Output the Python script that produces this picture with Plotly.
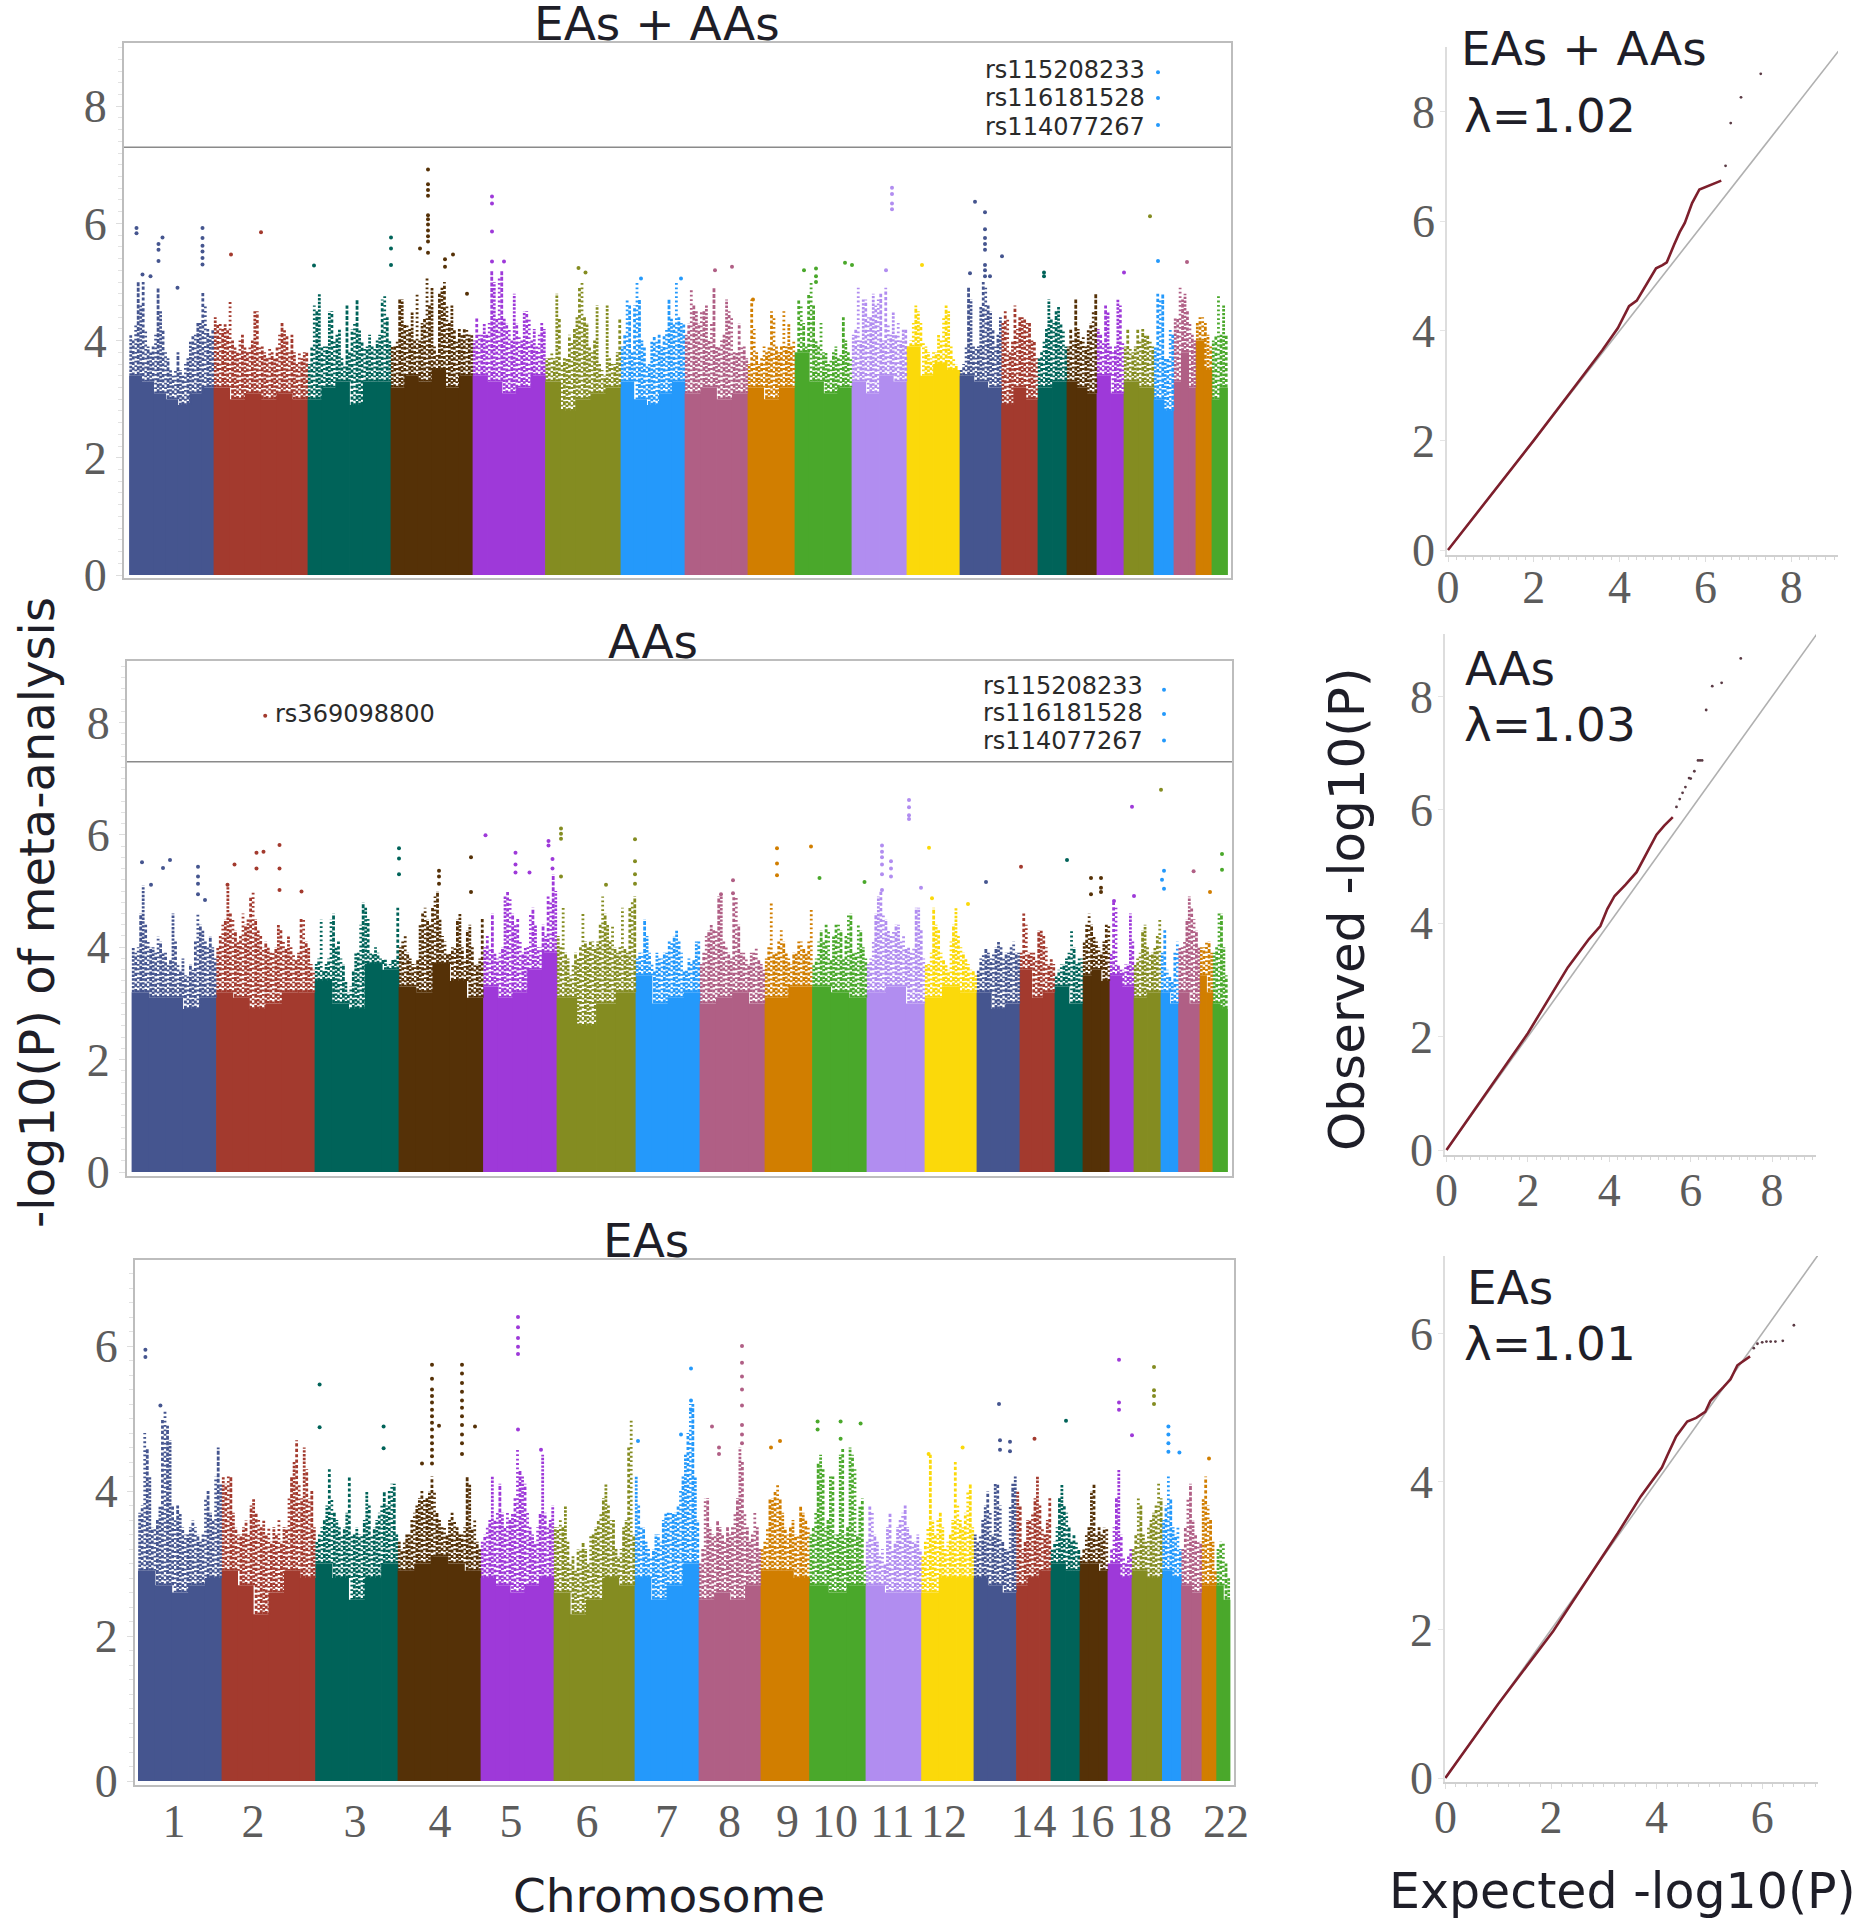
import plotly.graph_objects as go

COLORS = ["#45558f", "#a33a2e", "#006359", "#553107", "#9e39d9", "#848c21", "#2499fb", "#b05f85",
          "#d17e00", "#4aa82b", "#b18df0", "#fbd90a"]
CHROM_TICK_TEXT = ["1", "2", "3", "4", "5", "6", "7", "8", "9", "10", "11", "12", "14", "16", "18", "22"]
CHROM_TICK_POS = [35.6, 114.6, 216.6, 301.6, 372.6, 448.6, 528, 591, 649, 696.6, 754, 805.6, 895, 953, 1010.6, 1087.6]

# ---------- EAs + AAs Manhattan ----------
P1_WIDTHS = [84.5, 94, 83, 82, 72.5, 75.5, 64, 63, 47, 57, 55, 53, 41.6, 36.4, 29, 30, 27, 30, 20, 22, 16, 15.5]
P1_SOLID = [
    [3.4, 3.3, 3.1, 3.0, 2.9, 3.1, 3.2], [3.2, 3.0, 3.1, 3.0, 3.1, 3.0], [3.0, 3.2, 3.3, 2.9, 3.3, 3.3],
    [3.2, 3.4, 3.3, 3.5, 3.2, 3.4], [3.4, 3.3, 3.1, 3.2, 3.4], [3.3, 2.8, 3.0, 3.1, 3.2], [3.3, 3.0, 2.9, 3.1, 3.3],
    [3.1, 3.2, 3.0, 3.1], [3.2, 3.0, 3.2], [3.8, 3.3, 3.1, 3.2], [3.3, 3.1, 3.4, 3.3], [3.9, 3.4, 3.6, 3.5],
    [3.4, 3.3, 3.2], [2.9, 3.2, 3.0], [3.2, 3.3], [3.3, 3.2, 3.1], [3.4, 3.1], [3.3, 3.2], [3.0, 2.8], [3.3, 3.8, 3.2], [4.0, 3.5], [3.0, 3.2]]
P1_TOPS = [
    [4.1, 4.0, 4.3, 5.0, 4.6, 5.0, 4.2, 3.9, 3.8, 3.9, 4.1, 4.9, 4.5, 4.2, 3.8, 3.7, 3.5, 3.4, 3.5, 3.8, 3.5, 3.4, 3.6, 3.7, 4.0, 4.1, 4.1, 4.3, 4.3, 4.85, 4.6, 4.2, 4.1, 4.2],
    [4.4, 4.3, 4.3, 4.2, 4.3, 4.2, 4.7, 4.0, 3.9, 3.8, 4.0, 4.1, 3.9, 3.8, 3.9, 4.0, 4.5, 4.5, 3.9, 3.9, 3.8, 3.7, 3.9, 3.8, 3.7, 3.9, 4.1, 4.3, 4.2, 4.1, 3.8, 4.1, 3.8, 3.6, 3.8, 3.7, 3.8, 3.8],
    [3.6, 3.9, 4.6, 4.5, 4.8, 3.9, 3.9, 3.9, 4.5, 4.5, 4.0, 4.1, 4.2, 3.7, 3.6, 4.6, 3.8, 4.2, 4.3, 4.7, 4.2, 4.0, 3.9, 3.9, 4.1, 3.9, 3.9, 4.0, 4.1, 4.7, 4.8, 4.4, 4.0],
    [3.9, 3.9, 4.0, 4.7, 4.7, 4.3, 4.3, 4.2, 4.5, 4.0, 4.8, 4.0, 4.3, 4.4, 5.1, 4.6, 4.9, 3.9, 3.8, 4.8, 4.9, 5.0, 4.6, 4.3, 4.6, 4.2, 4.0, 4.2, 4.1, 4.2, 4.2, 4.1, 4.1],
    [4.0, 4.4, 4.1, 4.1, 4.3, 4.1, 4.3, 5.2, 5.0, 4.4, 5.1, 5.2, 4.4, 4.3, 4.2, 4.0, 4.8, 4.3, 4.1, 4.0, 4.5, 4.5, 4.4, 4.0, 4.2, 3.9, 4.1, 4.3, 4.2],
    [3.7, 3.7, 3.8, 3.7, 4.8, 4.4, 3.6, 3.7, 3.7, 4.1, 4.0, 4.2, 4.4, 4.9, 5.0, 4.4, 4.3, 3.9, 3.8, 4.0, 4.6, 3.6, 3.5, 3.4, 4.6, 3.7, 3.6, 3.6, 3.8, 4.4],
    [3.9, 4.1, 4.7, 4.6, 3.8, 4.6, 5.0, 4.7, 4.0, 3.9, 3.6, 3.6, 4.0, 4.1, 4.0, 4.1, 3.9, 4.1, 4.2, 4.7, 4.4, 4.3, 5.0, 4.4, 4.3, 4.3],
    [4.1, 4.3, 4.9, 4.6, 4.5, 4.3, 4.5, 4.5, 4.6, 4.0, 4.3, 4.9, 3.9, 3.9, 4.0, 4.1, 4.7, 4.5, 4.4, 3.8, 3.8, 4.3, 3.9, 3.9, 3.7],
    [3.6, 4.7, 4.2, 3.8, 3.6, 3.7, 3.9, 3.8, 3.9, 4.5, 4.4, 3.9, 3.8, 3.9, 4.5, 3.9, 4.3, 3.9, 4.0],
    [3.8, 4.7, 4.6, 4.3, 3.9, 4.8, 5.0, 4.6, 4.0, 3.9, 4.3, 3.8, 3.8, 3.6, 3.7, 3.8, 3.9, 3.7, 3.8, 4.4, 4.0, 3.8, 3.7],
    [4.1, 4.2, 4.9, 4.0, 4.7, 4.7, 4.4, 4.4, 4.8, 4.6, 4.7, 4.8, 4.0, 4.9, 4.3, 4.1, 4.5, 4.1, 4.3, 4.0, 4.2, 4.2],
    [3.7, 4.0, 4.3, 4.6, 4.5, 4.3, 4.0, 3.9, 3.8, 3.7, 3.8, 3.8, 4.1, 4.0, 4.4, 4.6, 4.5, 3.9, 3.7, 3.6, 3.5],
    [3.5, 3.6, 3.9, 4.9, 4.7, 3.9, 3.9, 3.9, 4.6, 5.0, 4.9, 4.6, 4.5, 4.2, 3.9, 4.1, 4.4],
    [4.3, 4.5, 4.4, 3.8, 4.0, 4.6, 4.2, 4.4, 4.4, 4.4, 4.3, 4.3, 4.0, 4.0, 3.7],
    [3.7, 3.8, 4.0, 4.2, 4.7, 4.4, 4.3, 4.5, 4.6, 4.3, 4.2, 3.9],
    [3.9, 4.2, 4.0, 4.7, 4.2, 4.0, 4.1, 3.9, 4.2, 4.3, 4.5, 4.8],
    [4.2, 4.1, 4.0, 4.6, 4.5, 3.9, 3.8, 3.9, 4.7, 4.6, 4.0],
    [3.9, 4.2, 3.9, 3.8, 3.9, 4.2, 4.0, 4.2, 4.1, 4.1, 4.0, 3.9],
    [3.9, 4.8, 4.7, 4.8, 3.7, 3.7, 4.2, 4.1],
    [4.4, 4.4, 4.9, 4.7, 4.8, 4.5, 4.3, 4.1, 4.0],
    [4.3, 4.4, 4.4, 4.3, 4.1, 3.9],
    [4.0, 4.1, 4.8, 4.1, 4.6, 4.1]]
P1_HITS = [
    (1, 7, 5.92), (1, 7, 5.83), (1, 13, 5.13), (1, 21, 5.1), (1, 29, 5.65), (1, 29, 5.55), (1, 29, 5.36), (1, 33, 5.76), (1, 48, 4.9),
    (1, 73, 5.92), (1, 73, 5.75), (1, 73, 5.62), (1, 73, 5.52), (1, 73, 5.41), (1, 73, 5.3),
    (2, 17, 5.47), (2, 47, 5.85), (3, 6, 5.28), (3, 83, 5.76), (3, 83, 5.57), (3, 83, 5.29),
    (4, 29, 5.57), (4, 37, 6.92), (4, 37, 6.67), (4, 37, 6.57), (4, 37, 6.47), (4, 37, 6.14), (4, 37, 6.07), (4, 37, 5.98), (4, 37, 5.88),
    (4, 37, 5.78), (4, 37, 5.69), (4, 37, 5.5), (4, 54, 5.39), (4, 54, 5.26), (4, 62, 5.47), (4, 76, 4.8),
    (5, 19, 6.46), (5, 19, 6.34), (5, 19, 5.86), (5, 19, 5.35), (5, 31, 5.35), (6, 33, 5.24), (6, 40, 5.16),
    (7, 20, 5.06), (7, 60, 5.06), (8, 30, 5.2), (8, 47, 5.26), (9, 5, 4.7), (10, 9, 5.2), (10, 21, 5.23), (10, 21, 5.1), (10, 21, 5.0),
    (10, 50, 5.33), (10, 57, 5.29), (11, 40, 6.61), (11, 40, 6.5), (11, 40, 6.34), (11, 40, 6.24), (11, 34, 5.2), (12, 15, 5.29),
    (13, 15, 6.37), (13, 25, 6.19), (13, 25, 5.9), (13, 25, 5.75), (13, 25, 5.65), (13, 25, 5.55), (13, 25, 5.29), (13, 25, 5.2), (13, 25, 5.1),
    (13, 42, 5.44), (13, 10, 5.15), (13, 30, 5.1), (15, 6, 5.16), (15, 6, 5.1), (17, 27, 5.16), (18, 26, 6.12), (19, 4, 5.36), (20, 13, 5.34),
    (19, 4, 8.58), (19, 4, 8.14), (19, 4, 7.68)]

# ---------- AAs Manhattan ----------
P2_WIDTHS = [84.5, 98.5, 84, 84.5, 73.5, 79, 64, 65, 47.5, 54.5, 58, 52, 43, 35, 28, 27, 24, 27, 17.6, 21.4, 13, 14.5]
P2_SOLID = [
    [3.2, 3.1, 3.1, 2.9, 3.1], [3.2, 3.1, 2.9, 3.0, 3.2, 3.2], [3.4, 3.0, 2.9, 3.7, 3.6], [3.3, 3.2, 3.7, 3.4, 3.1],
    [3.3, 3.1, 3.2, 3.6, 3.9], [3.1, 2.6, 3.0, 3.2], [3.5, 3.0, 3.1, 3.2], [3.0, 3.1, 3.2, 3.0], [3.1, 3.3], [3.3, 3.2, 3.1], [3.2, 3.3, 3.0],
    [3.1, 3.3, 3.2], [3.2, 2.9, 3.0], [3.6, 3.1, 3.2], [3.3, 3.0], [3.5, 3.6, 3.4], [3.5, 3.3], [3.1, 3.2], [3.2, 3.0], [3.2, 3.0], [3.5, 3.2], [3.0, 2.9]]
P2_TOPS = [
    [4.0, 3.9, 4.0, 4.6, 5.1, 4.4, 4.1, 4.0, 4.0, 3.9, 4.2, 4.1, 3.9, 3.9, 3.7, 3.8, 4.6, 4.1, 3.7, 3.6, 3.8, 3.5, 3.5, 3.7, 3.6, 4.1, 4.6, 4.4, 4.3, 4.1, 4.0, 4.2, 4.0, 3.8],
    [4.0, 4.2, 4.4, 4.5, 5.1, 4.6, 4.5, 4.3, 4.1, 4.2, 4.6, 4.4, 4.5, 4.9, 5.0, 4.5, 4.3, 4.2, 4.0, 4.1, 4.0, 3.9, 3.9, 4.0, 4.4, 4.3, 4.1, 4.0, 4.2, 4.0, 3.9, 3.8, 3.9, 4.5, 4.5, 4.1, 4.0, 3.7, 3.6],
    [3.7, 3.8, 4.5, 3.6, 3.7, 3.8, 4.5, 4.6, 4.0, 4.1, 3.8, 3.7, 3.4, 3.2, 3.3, 3.6, 3.9, 3.9, 4.4, 4.8, 4.7, 4.5, 3.9, 3.9, 4.0, 3.9, 3.8, 3.8, 3.8, 3.7, 3.7, 3.8, 3.8, 4.7],
    [4.0, 4.1, 4.2, 3.9, 3.8, 3.7, 3.7, 3.8, 4.4, 4.6, 4.7, 4.5, 4.4, 4.7, 4.9, 5.0, 4.5, 4.2, 4.1, 3.9, 3.9, 4.0, 4.0, 4.5, 4.6, 4.0, 3.8, 4.3, 4.4, 4.0, 3.7, 3.7, 3.8, 4.5],
    [4.0, 4.2, 4.0, 4.6, 3.9, 3.8, 3.9, 4.0, 4.9, 5.0, 4.9, 4.6, 4.4, 4.5, 4.1, 3.9, 4.0, 4.0, 4.6, 4.7, 4.4, 4.0, 4.0, 4.4, 4.2, 4.9, 4.8, 5.3, 5.0],
    [4.2, 4.0, 4.7, 3.9, 3.8, 3.5, 3.7, 3.9, 3.8, 4.0, 4.6, 4.1, 4.0, 4.1, 4.1, 4.0, 4.1, 4.4, 4.9, 4.6, 4.4, 4.1, 4.4, 4.0, 3.9, 4.0, 4.7, 4.0, 3.9, 4.7, 4.8, 4.9],
    [3.8, 3.9, 3.9, 4.5, 4.2, 3.9, 3.7, 3.6, 3.9, 3.8, 3.8, 3.9, 3.9, 4.1, 4.1, 4.2, 4.3, 4.1, 3.9, 3.6, 3.6, 3.8, 3.7, 3.8, 4.1, 4.1],
    [3.7, 3.9, 4.2, 4.3, 4.4, 4.3, 4.3, 4.9, 4.9, 4.1, 4.0, 3.9, 3.8, 4.9, 4.9, 4.4, 3.9, 3.9, 3.8, 3.7, 3.9, 3.9, 4.0, 3.8, 3.7, 3.6],
    [3.8, 4.0, 4.8, 3.9, 3.9, 4.1, 4.3, 4.1, 3.9, 3.8, 3.7, 3.9, 3.9, 4.1, 4.1, 4.0, 3.9, 4.1, 4.7],
    [3.7, 3.8, 4.1, 4.3, 4.1, 4.4, 4.3, 3.8, 4.2, 4.4, 4.4, 4.3, 3.8, 4.2, 4.6, 4.6, 3.9, 3.9, 4.4, 4.3, 4.0, 3.8],
    [3.7, 3.8, 4.1, 4.6, 4.9, 5.0, 4.6, 4.5, 4.3, 4.2, 4.3, 4.4, 4.4, 4.1, 4.2, 4.0, 4.0, 3.9, 4.0, 4.7, 4.7, 4.3, 3.8],
    [3.7, 3.7, 3.9, 4.7, 4.4, 4.3, 3.9, 3.8, 3.7, 3.6, 4.1, 4.4, 4.7, 4.2, 4.0, 3.9, 3.8, 3.7, 3.6, 3.6, 3.5],
    [3.6, 3.8, 3.9, 4.0, 3.9, 3.8, 3.9, 4.0, 4.1, 4.0, 3.8, 3.9, 3.9, 4.0, 4.1, 3.9, 3.9],
    [3.9, 4.6, 4.4, 3.9, 3.9, 3.9, 3.8, 4.3, 4.3, 4.2, 4.0, 3.7, 3.8, 3.7],
    [3.5, 3.6, 3.7, 3.7, 3.8, 3.9, 4.3, 4.0, 3.7, 3.8, 3.8],
    [4.1, 4.4, 4.6, 4.4, 4.2, 4.1, 4.0, 3.9, 4.1, 4.4, 4.4],
    [3.9, 4.8, 4.7, 3.7, 3.6, 3.6, 3.7, 3.7, 4.6, 4.1],
    [3.7, 3.8, 3.9, 4.3, 4.4, 4.0, 3.9, 3.9, 4.0, 4.2, 4.5],
    [3.9, 4.3, 3.6, 3.5, 3.4, 3.9, 4.1],
    [4.0, 4.0, 4.1, 4.5, 4.9, 4.7, 4.5, 4.3, 4.0],
    [4.0, 4.0, 4.1, 4.1, 3.9],
    [3.9, 4.0, 4.6, 4.6, 4.0, 3.5]]
P2_HITS = [
    (1, 10, 5.51), (1, 19, 5.11), (1, 31, 5.41), (1, 38, 5.55), (1, 66, 5.43), (1, 66, 5.26), (1, 66, 5.13), (1, 66, 4.94), (1, 73, 4.84),
    (2, 18, 5.47), (2, 11, 5.11), (2, 40, 5.68), (2, 40, 5.4), (2, 47, 5.7), (2, 63, 5.82), (2, 63, 5.4), (2, 63, 5.02), (2, 85, 4.99),
    (3, 84, 5.76), (3, 84, 5.58), (3, 84, 5.3), (4, 72, 5.6), (4, 72, 4.98), (4, 40, 5.36), (4, 40, 5.26), (4, 40, 5.13),
    (5, 2, 5.99), (5, 32, 5.68), (5, 32, 5.47), (5, 32, 5.33), (5, 46, 5.33), (5, 65, 5.89), (5, 65, 5.81), (5, 69, 5.57), (5, 69, 5.4),
    (6, 4, 6.11), (6, 4, 6.02), (6, 4, 5.93), (6, 4, 5.26), (6, 78, 5.92), (6, 78, 5.53), (6, 78, 5.3), (6, 78, 5.13), (6, 49, 5.11),
    (8, 33, 5.19), (8, 33, 4.96), (8, 21, 4.94), (9, 12, 5.76), (9, 12, 5.49), (9, 12, 5.28), (9, 46, 5.79), (10, 7, 5.23), (10, 52, 5.16),
    (11, 15, 5.81), (11, 15, 5.7), (11, 15, 5.6), (11, 15, 5.47), (11, 15, 5.3), (11, 15, 5.02), (11, 24, 5.53), (11, 24, 5.4), (11, 24, 5.26),
    (11, 42, 6.62), (11, 42, 6.49), (11, 42, 6.35), (11, 42, 6.28), (11, 54, 5.06), (12, 4, 5.77), (12, 7, 4.87), (12, 43, 4.77),
    (13, 9, 5.16), (14, 1, 5.43), (15, 12, 5.55), (16, 8, 5.23), (16, 8, 4.94), (16, 18, 5.23), (16, 18, 5.06), (16, 18, 4.98),
    (17, 4, 4.82), (17, 24, 4.91), (17, 22, 6.5), (18, 27, 6.8), (19, 3, 5.36), (19, 3, 5.04), (19, 1, 5.2), (20, 15, 5.35), (21, 10, 4.98),
    (22, 9, 5.66), (22, 9, 5.38), (2, 48.7, 8.12), (19, 3, 8.58), (19, 3, 8.15), (19, 3, 7.68)]

# ---------- EAs Manhattan ----------
P3_WIDTHS = [83.6, 93.6, 82.4, 83, 73, 81, 64, 62, 48.6, 56.4, 55.6, 52.4, 42.5, 34.5, 29, 28, 24, 30.4, 19.1, 20.5, 14.7, 13.3]
P3_SOLID = [
    [2.9, 2.7, 2.6, 2.7, 2.8], [2.9, 2.7, 2.3, 2.6, 2.9, 2.8], [3.0, 2.8, 2.5, 2.8, 3.0], [2.9, 3.0, 3.1, 3.0, 2.9], [2.8, 2.7, 2.6, 2.7, 2.8],
    [2.6, 2.3, 2.5, 2.8, 2.7], [2.8, 2.5, 2.7, 3.0], [2.5, 2.6, 2.5, 2.7], [2.9, 2.9, 2.8], [2.7, 2.6, 2.7], [2.7, 2.6, 2.6], [2.6, 2.8, 2.8],
    [2.8, 2.7, 2.6], [2.7, 2.8, 2.9], [3.0, 2.9], [3.0, 3.0, 2.9], [3.0, 2.8], [2.9, 2.8], [2.9, 2.8], [2.7, 2.6], [2.7, 2.7], [2.7, 2.5]]
P3_TOPS = [
    [3.7, 3.8, 4.8, 4.6, 4.2, 3.5, 3.5, 3.6, 3.8, 5.0, 5.1, 4.9, 4.7, 3.8, 3.6, 3.8, 3.7, 3.5, 3.4, 3.4, 3.5, 3.6, 3.5, 3.4, 3.3, 3.4, 3.9, 4.0, 3.7, 3.6, 4.2, 4.6, 4.1],
    [4.2, 4.1, 4.2, 4.2, 3.7, 3.5, 3.4, 3.4, 3.5, 3.6, 3.4, 3.8, 3.9, 3.7, 3.6, 3.5, 3.6, 3.4, 3.5, 3.3, 3.5, 3.4, 3.6, 3.3, 3.5, 3.5, 3.9, 4.2, 4.4, 4.7, 4.1, 3.9, 4.6, 4.3, 3.9, 4.0, 3.5],
    [3.3, 3.4, 3.5, 3.6, 3.8, 4.3, 3.9, 3.7, 3.6, 3.5, 3.4, 3.5, 3.7, 4.2, 3.4, 3.4, 3.5, 3.4, 3.4, 3.6, 4.0, 3.8, 3.4, 3.5, 3.6, 3.7, 3.8, 4.0, 3.8, 4.0, 4.1, 4.1, 3.4],
    [3.3, 3.2, 3.3, 3.4, 3.4, 3.6, 3.7, 3.8, 3.9, 4.0, 3.9, 3.9, 4.0, 4.2, 4.0, 3.7, 3.6, 3.5, 3.5, 3.4, 3.6, 3.7, 3.6, 3.5, 3.4, 3.4, 3.5, 4.2, 4.1, 3.5, 3.6, 3.3, 3.2],
    [3.3, 3.4, 3.5, 3.6, 4.2, 3.6, 3.7, 4.1, 3.7, 3.5, 3.7, 3.6, 3.7, 3.9, 4.6, 4.3, 4.2, 4.1, 3.7, 3.5, 3.4, 3.3, 3.5, 3.7, 4.5, 3.7, 3.5, 3.6, 3.8],
    [3.5, 3.5, 3.6, 3.5, 3.8, 3.3, 3.0, 3.1, 2.9, 3.2, 3.2, 3.3, 3.2, 3.0, 3.4, 3.4, 3.5, 3.6, 3.7, 3.9, 4.1, 3.8, 3.6, 3.6, 3.2, 3.1, 3.2, 3.5, 3.6, 4.6, 5.0, 3.4],
    [4.2, 3.8, 3.5, 3.5, 3.3, 3.2, 3.1, 3.2, 3.4, 3.4, 3.3, 3.6, 3.7, 3.7, 3.7, 3.7, 3.7, 3.8, 4.0, 4.2, 4.5, 4.8, 5.2, 5.2, 4.2, 3.6],
    [3.0, 3.2, 3.9, 3.9, 3.5, 3.4, 3.4, 3.6, 3.5, 3.4, 3.3, 3.5, 3.4, 3.5, 3.7, 3.9, 4.6, 4.4, 3.7, 3.5, 3.3, 3.4, 3.7, 3.5, 3.2],
    [3.2, 3.3, 3.5, 3.9, 3.9, 4.0, 4.1, 3.9, 3.7, 3.5, 3.4, 3.5, 3.6, 3.4, 3.4, 3.8, 3.7, 3.6, 3.5],
    [3.4, 3.5, 3.7, 4.4, 4.5, 4.3, 3.5, 3.6, 4.2, 4.2, 3.4, 3.4, 4.5, 4.6, 3.4, 3.5, 4.6, 4.5, 4.3, 3.4, 3.8, 3.9, 3.0],
    [3.3, 3.8, 3.7, 3.4, 3.3, 3.1, 3.2, 3.0, 3.5, 3.7, 3.2, 3.3, 3.5, 3.6, 3.7, 3.8, 3.5, 3.4, 3.3, 3.3, 3.4, 3.2],
    [3.1, 3.3, 3.5, 4.5, 3.6, 3.4, 3.6, 3.7, 3.5, 3.2, 3.3, 3.4, 3.6, 4.4, 3.8, 3.6, 3.5, 3.7, 4.0, 4.1, 3.5],
    [3.4, 3.3, 3.4, 3.6, 3.8, 4.0, 3.7, 3.4, 4.1, 4.1, 3.8, 3.3, 3.2, 3.2, 3.8, 4.1, 4.2],
    [4.0, 3.8, 3.2, 3.3, 3.6, 3.6, 3.7, 3.9, 4.2, 3.8, 3.5, 3.4, 3.6, 3.9],
    [3.2, 3.3, 3.5, 3.9, 4.1, 3.8, 3.7, 3.5, 3.3, 3.4, 3.3, 3.2],
    [3.1, 3.2, 3.4, 3.5, 4.0, 4.1, 3.4, 3.5, 3.4, 3.5, 3.5],
    [3.0, 3.2, 3.5, 3.9, 4.3, 3.4, 3.1, 3.0, 3.1, 3.2],
    [3.2, 3.4, 3.9, 3.8, 3.4, 3.3, 3.5, 3.6, 3.7, 3.8, 4.1, 3.9],
    [3.6, 3.8, 4.2, 3.9, 3.5, 3.4, 3.5, 3.2],
    [3.2, 3.5, 3.9, 4.1, 3.6, 3.4, 3.3, 3.3],
    [3.9, 4.2, 3.8, 3.6, 3.3, 2.9],
    [3.2, 3.3, 3.3, 3.0, 2.8]]
P3_HITS = [
    (1, 7, 5.95), (1, 7, 5.85), (1, 22, 5.18), (3, 4, 5.47), (3, 4, 4.88), (3, 68, 4.89), (3, 68, 4.59),
    (4, 34, 5.74), (4, 34, 5.55), (4, 34, 5.4), (4, 34, 5.31), (4, 34, 5.22), (4, 34, 5.12), (4, 34, 5.03), (4, 34, 4.94), (4, 34, 4.85),
    (4, 34, 4.75), (4, 34, 4.66), (4, 34, 4.57), (4, 34, 4.48), (4, 34, 4.38), (4, 41, 4.9), (4, 24, 4.38),
    (4, 64, 5.74), (4, 64, 5.62), (4, 64, 5.49), (4, 64, 5.37), (4, 64, 5.25), (4, 64, 5.15), (4, 64, 5.03), (4, 64, 4.91), (4, 64, 4.78),
    (4, 64, 4.66), (4, 64, 4.51), (4, 77, 4.89), (5, 37, 6.4), (5, 37, 6.26), (5, 37, 6.11), (5, 37, 5.99), (5, 37, 5.89), (5, 37, 4.85),
    (5, 60, 4.57), (7, 3, 4.69), (7, 56, 5.69), (7, 46, 4.78), (7, 56, 5.25), (7, 56, 5.12),
    (8, 13, 4.89), (8, 20, 4.6), (8, 20, 4.51), (8, 43, 6.0), (8, 43, 5.77), (8, 43, 5.58), (8, 43, 5.4), (8, 43, 5.18), (8, 43, 4.91), (8, 43, 4.78), (8, 43, 4.66),
    (9, 19, 4.69), (9, 10, 4.6), (10, 8, 4.96), (10, 8, 4.85), (10, 31, 4.96), (10, 31, 4.72), (10, 51, 4.93), (12, 7, 4.51), (12, 41, 4.6),
    (13, 25, 5.2), (13, 26, 4.7), (13, 26, 4.57), (13, 36, 4.68), (13, 36, 4.55), (14, 18, 4.72), (15, 15, 4.97),
    (17, 11, 5.81), (17, 11, 5.22), (17, 11, 5.12), (17, 24, 4.77), (18, 22, 5.71), (18, 22, 5.39), (18, 22, 5.31), (18, 22, 5.2),
    (19, 6, 4.89), (19, 6, 4.78), (19, 6, 4.66), (19, 6, 4.54), (19, 17, 4.53), (21, 7, 4.45)]

# ---------- QQ plots ----------
Q1_EXPECTED = [0, 1, 2, 3, 3.6, 3.96, 4.22, 4.4, 4.55, 4.7, 4.85, 5.0, 5.1, 5.27, 5.4, 5.52, 5.69, 5.86, 6.07, 6.37]
Q1_OBSERVED = [0, 1, 2, 3.03, 3.65, 4.05, 4.45, 4.55, 4.74, 4.95, 5.14, 5.2, 5.25, 5.57, 5.8, 5.97, 6.33, 6.58, 6.65, 6.74]
Q1_TOP_X = [6.47, 6.59, 6.83, 7.29]
Q1_TOP_Y = [7.01, 7.79, 8.26, 8.69]
Q2_EXPECTED = [0, 1, 2.0, 2.98, 3.5, 3.78, 3.95, 4.13, 4.4, 4.67, 4.9, 5.16, 5.35, 5.56]
Q2_OBSERVED = [0, 1.03, 2.06, 3.22, 3.72, 3.95, 4.25, 4.48, 4.68, 4.9, 5.22, 5.56, 5.72, 5.87]
Q2_TOP_X = [5.65, 5.73, 5.8, 5.87, 5.96, 6.0, 6.09, 6.18, 6.23, 6.28, 6.38, 6.53, 6.76, 7.23]
Q2_TOP_Y = [6.05, 6.19, 6.3, 6.4, 6.56, 6.55, 6.68, 6.87, 6.87, 6.87, 7.76, 8.18, 8.24, 8.67]
Q3_EXPECTED = [0, 1, 2.04, 3.27, 3.7, 4.1, 4.2, 4.37, 4.58, 4.75, 4.92, 5.02, 5.26, 5.4, 5.53, 5.77]
Q3_OBSERVED = [0, 1, 1.98, 3.31, 3.8, 4.19, 4.35, 4.61, 4.81, 4.86, 4.94, 5.09, 5.27, 5.38, 5.57, 5.69]
Q3_TOP_X = [5.84, 5.91, 6.0, 6.08, 6.16, 6.25, 6.39, 6.6]
Q3_TOP_Y = [5.8, 5.86, 5.88, 5.89, 5.89, 5.89, 5.9, 6.11]
DIAGONAL = [0, 9.1]
DIAGONAL_EAS = [0, 7.05]
GENOME_WIDE_LINE = 7.3

W, H = 1867, 1920
fig = go.Figure()
def fx(p): return p / W
def fy(p): return 1 - p / H
SERIF = "Liberation Serif"
SANS = "DejaVu Sans"
TICK = dict(family=SERIF, size=46, color="#5c5c5c")
DASHES = ["2.4px,1.4px", "3.2px,2.2px", "1.8px,2.6px", "4px,1.6px"]

def manhattan(n, widths, solid, tops, hits, left, right, top, bottom, x0, y0, ys, threshold, xticks, ytickvals):
    xa, ya = f"x{n}", f"y{n}"
    start = 0
    starts = []
    for c, w in enumerate(widths):
        starts.append(start)
        col = COLORS[c % 12]
        s = solid[c]
        sw = w / len(s)
        fig.add_trace(go.Bar(x=[start + (i + .5) * sw for i in range(len(s))], y=s, width=[sw + 0.8] * len(s),
                             marker=dict(color=col, line_width=0), xaxis=xa, yaxis=ya, showlegend=False))
        t = tops[c]
        bw = w / len(t)
        for k, dash in enumerate(DASHES):
            xs, yy = [], []
            for i, v in enumerate(t):
                if i % len(DASHES) != k:
                    continue
                px = start + (i + .5) * bw
                xs += [px, px, None]
                yy += [s[int(i / len(t) * len(s))], v, None]
            fig.add_trace(go.Scatter(x=xs, y=yy, mode="lines", line=dict(color=col, width=2.8, dash=dash),
                                     xaxis=xa, yaxis=ya, showlegend=False, hoverinfo="skip"))
        start += w
    byc = {}
    for c, p, v in hits:
        byc.setdefault(c, []).append((starts[c - 1] + p, v))
    for c, pts in byc.items():
        fig.add_trace(go.Scatter(x=[a for a, b in pts], y=[b for a, b in pts], mode="markers",
                                 marker=dict(color=COLORS[(c - 1) % 12], size=4, line_width=0),
                                 xaxis=xa, yaxis=ya, showlegend=False))
    xr = [left - x0, right - x0]
    if threshold:
        fig.add_trace(go.Scatter(x=xr, y=[GENOME_WIDE_LINE] * 2, mode="lines", line=dict(color="#8a8a8a", width=1.6),
                                 xaxis=xa, yaxis=ya, showlegend=False))
    fig.update_layout({
        f"xaxis{n}": dict(domain=[fx(left), fx(right)], range=xr, anchor=ya, showgrid=False, zeroline=False, automargin=False,
                          showline=True, mirror=True, linecolor="#bdbdbd", linewidth=2,
                          tickvals=xticks[0] if xticks else [], ticktext=xticks[1] if xticks else [],
                          ticks="", tickfont=TICK, ticklabelstandoff=-5),
        f"yaxis{n}": dict(domain=[fy(bottom), fy(top)], range=[(y0 - bottom) / ys, (y0 - top) / ys], anchor=xa, automargin=False,
                          showgrid=False, zeroline=False, showline=True, mirror=True, linecolor="#bdbdbd", linewidth=2,
                          tickvals=ytickvals, ticks="outside", ticklen=6, tickcolor="#dddddd", tickfont=TICK,
                          minor=dict(ticks="outside", ticklen=4, tickcolor="#e2e2e2", tick0=0, dtick=0.2)),
    })

manhattan(1, P1_WIDTHS, P1_SOLID, P1_TOPS, P1_HITS, 124, 1231, 43, 578, 129.5, 575, 58.6, True, None, [0, 2, 4, 6, 8])
manhattan(2, P2_WIDTHS, P2_SOLID, P2_TOPS, P2_HITS, 127, 1232, 661, 1176, 132, 1172, 56.2, True, None, [0, 2, 4, 6, 8])
manhattan(3, P3_WIDTHS, P3_SOLID, P3_TOPS, P3_HITS, 135, 1234, 1260, 1785, 138.4, 1781, 72.5, False,
          (CHROM_TICK_POS, CHROM_TICK_TEXT), [0, 2, 4, 6])

def qq(n, ex, ob, tx, ty, diag, left, right, top, bottom, x0, y0, xs, ys, vals, standoff):
    xa, ya = f"x{n}", f"y{n}"
    fig.add_trace(go.Scatter(x=diag, y=diag, mode="lines", line=dict(color="#b0b0b0", width=1.6), xaxis=xa, yaxis=ya, showlegend=False))
    fig.add_trace(go.Scatter(x=ex, y=ob, mode="lines", line=dict(color="#7d1f2c", width=2.6), xaxis=xa, yaxis=ya, showlegend=False))
    fig.add_trace(go.Scatter(x=tx, y=ty, mode="markers", marker=dict(color="#5a3a44", size=2.8, line_width=0), xaxis=xa, yaxis=ya, showlegend=False))
    fig.update_layout({
        f"xaxis{n}": dict(domain=[fx(left), fx(right)], range=[(left - x0) / xs, (right - x0) / xs], anchor=ya, showgrid=False, zeroline=False,
                          automargin=False, showline=True, linecolor="#d0d0d0", linewidth=1.5, tickvals=vals, ticks="outside", ticklen=5, tickcolor="#dddddd",
                          tickfont=TICK, ticklabelstandoff=standoff, minor=dict(ticks="outside", ticklen=3, tickcolor="#d5d5d5", tick0=0, dtick=0.2)),
        f"yaxis{n}": dict(domain=[fy(bottom), fy(top)], range=[(y0 - bottom) / ys, (y0 - top) / ys], anchor=xa, showgrid=False, zeroline=False,
                          automargin=False, showline=True, linecolor="#dddddd", linewidth=1.5, tickvals=vals, ticks="outside", ticklen=5, tickcolor="#e5e5e5",
                          tickfont=TICK, ticklabelstandoff=-4),
    })

qq(4, Q1_EXPECTED, Q1_OBSERVED, Q1_TOP_X, Q1_TOP_Y, DIAGONAL, 1447, 1838, 47, 555, 1448, 550, 42.9, 54.8, [0, 2, 4, 6, 8], -14)
qq(5, Q2_EXPECTED, Q2_OBSERVED, Q2_TOP_X, Q2_TOP_Y, DIAGONAL, 1445, 1816, 634, 1155, 1446.5, 1150, 40.7, 56.7, [0, 2, 4, 6, 8], -11)
qq(6, Q3_EXPECTED, Q3_OBSERVED, Q3_TOP_X, Q3_TOP_Y, DIAGONAL_EAS, 1445, 1818, 1256, 1782, 1445.4, 1778, 52.8, 74.1, [0, 2, 4, 6], -11)

def note(text, px, py, size, anchor="center", angle=0, color="#1e1e28"):
    fig.add_annotation(text=text, x=fx(px), y=fy(py), xref="paper", yref="paper", xanchor=anchor, yanchor="middle",
                       showarrow=False, textangle=angle, font=dict(family=SANS, size=size, color=color))

note("EAs + AAs", 657, 24, 47)
note("AAs", 653, 641, 47)
note("EAs", 646, 1240, 47)
note("Chromosome", 669, 1895, 47)
note("Expected -log10(P)", 1622, 1891, 49)
note("-log10(P) of meta-analysis", 37, 913, 48, angle=-90)
note("Observed -log10(P)", 1347, 909, 50, angle=-90)
note("EAs + AAs", 1459, 49, 47, "left")
note("λ=1.02", 1462, 115, 47, "left")
note("AAs", 1463, 669, 47, "left")
note("λ=1.03", 1462, 724, 47, "left")
note("EAs", 1465, 1287, 47, "left")
note("λ=1.01", 1462, 1343, 47, "left")
for t, y in zip(["rs115208233", "rs116181528", "rs114077267"], [70, 98, 127]):
    note(t, 1147, y, 24, "right", color="#2a2a2a")
for t, y in zip(["rs115208233", "rs116181528", "rs114077267"], [686, 713, 741]):
    note(t, 1145, y, 24, "right", color="#2a2a2a")
note("rs369098800", 273, 714, 24, "left", color="#2a2a2a")

fig.update_layout(width=W, height=H, autosize=False, margin=dict(l=0, r=0, t=0, b=0), paper_bgcolor="white",
                  plot_bgcolor="white", barmode="overlay", showlegend=False)
fig.write_html("out.html", post_script="document.body.style.margin='0';", config={"displayModeBar": False})
